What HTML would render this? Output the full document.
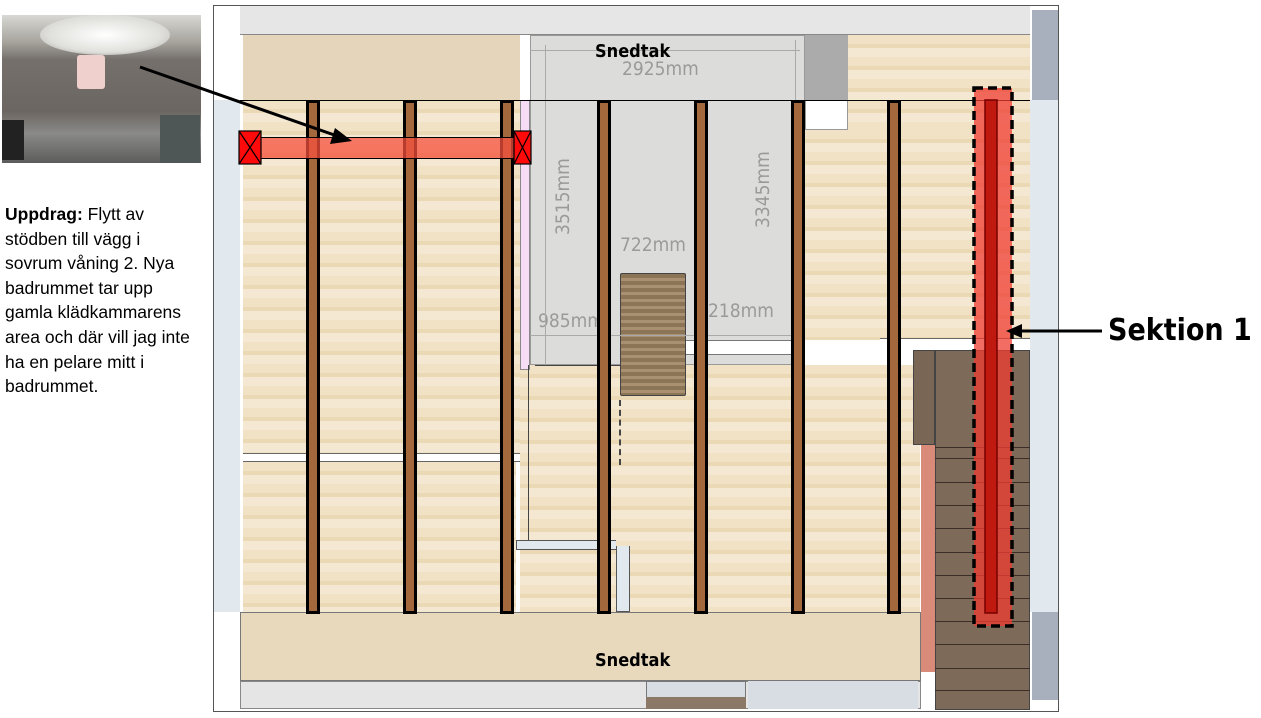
<!DOCTYPE html>
<html><head><meta charset="utf-8"><style>
*{margin:0;padding:0;box-sizing:border-box}
body{width:1261px;height:718px;background:#fff;position:relative;overflow:hidden;font-family:"Liberation Sans","DejaVu Sans",sans-serif}
.a{position:absolute}
.beam{position:absolute;top:100px;height:514px;width:14px;background:#a3683c;border:3px solid #000}
.floor{background:repeating-linear-gradient(180deg,#f1e2c6 0 9px,#ebd8b5 9px 13px,#f4e8d2 13px 22px)}
.dim{position:absolute;color:#9a9a9a;font-size:19px;font-family:"DejaVu Sans Condensed","DejaVu Sans",sans-serif}
.step{position:absolute;left:935px;width:95px;height:1px;background:#3a2e26}
</style></head><body>
<div class="a" style="left:2px;top:15px;width:199px;height:148px;background:linear-gradient(180deg,#d8d8d4 0,#a8a59f 18%,#75706c 30%,#6b6661 65%,#8a8a88 80%,#5c5c5c 100%)"></div>
<div class="a" style="left:40px;top:15px;width:130px;height:40px;border-radius:50%;background:radial-gradient(#fff,#e0e0dc 60%,rgba(200,200,195,0))"></div>
<div class="a" style="left:77px;top:55px;width:28px;height:34px;background:#f0d0cc;border-radius:3px"></div>
<div class="a" style="left:2px;top:120px;width:22px;height:40px;background:#222"></div>
<div class="a" style="left:160px;top:115px;width:40px;height:48px;background:#4e5656"></div>
<div class="a" style="left:5px;top:202px;white-space:nowrap;font-size:17.5px;line-height:24.6px;color:#000"><b>Uppdrag:</b> Flytt av<br>stödben till vägg i<br>sovrum våning 2. Nya<br>badrummet tar upp<br>gamla klädkammarens<br>area och där vill jag inte<br>ha en pelare mitt i<br>badrummet.</div>

<div class="a" style="left:213px;top:5px;width:846px;height:707px;border:1px solid #555;background:#fff"></div>
<div class="a" style="left:240px;top:6px;width:790px;height:29px;background:#e6e6e6;border-bottom:1px solid #888"></div>
<div class="a" style="left:214px;top:100px;width:26px;height:512px;background:#e1e9ef"></div>
<div class="a" style="left:1032px;top:10px;width:26px;height:90px;background:#a9b0bd"></div>
<div class="a" style="left:1030px;top:100px;width:28px;height:512px;background:#e1e9ef"></div>
<div class="a" style="left:1032px;top:612px;width:26px;height:88px;background:#a9b0bd"></div>
<div class="a" style="left:243px;top:35px;width:277px;height:66px;background:#e5d6bb"></div>
<div class="a floor" style="left:848px;top:35px;width:182px;height:66px"></div>
<div class="a" style="left:805px;top:35px;width:43px;height:65px;background:#ababab"></div>
<div class="a" style="left:805px;top:100px;width:43px;height:30px;background:#fff;border:1px solid #999"></div>
<div class="a floor" style="left:243px;top:100px;width:277px;height:353px"></div>
<div class="a floor" style="left:243px;top:462px;width:273px;height:150px"></div>
<div class="a floor" style="left:520px;top:365px;width:400px;height:247px"></div>
<div class="a floor" style="left:805px;top:130px;width:225px;height:210px"></div>
<div class="a floor" style="left:848px;top:100px;width:182px;height:30px"></div>
<div class="a" style="left:243px;top:453px;width:277px;height:9px;background:#fff;border-top:1px solid #666;border-bottom:1px solid #666"></div>
<div class="a" style="left:530px;top:35px;width:275px;height:330px;background:#dcdcda;border:1px solid #999"></div>
<div class="a" style="left:520px;top:100px;width:10px;height:270px;background:#f7dcf5;border:1px solid #888"></div>
<div class="a" style="left:685px;top:340px;width:120px;height:15px;background:#fff;border:1px solid #777"></div>
<div class="a" style="left:880px;top:338px;width:150px;height:12px;background:#fff;border-top:1px solid #666"></div>
<div class="a" style="left:620px;top:273px;width:66px;height:123px;background:repeating-linear-gradient(180deg,#8c7456 0 4px,#a89070 4px 7px);border:1px solid #444;border-radius:2px"></div>
<div class="a" style="left:619px;top:400px;width:0;height:65px;border-left:2px dashed #444"></div>
<div class="dim" style="left:622px;top:58px">2925mm</div>
<div class="dim" style="left:620px;top:234px">722mm</div>
<div class="dim" style="left:538px;top:310px">985mm</div>
<div class="dim" style="left:708px;top:300px">218mm</div>
<div class="dim" style="left:552px;top:235px;transform:rotate(-90deg);transform-origin:left top">3515mm</div>
<div class="dim" style="left:752px;top:228px;transform:rotate(-90deg);transform-origin:left top">3345mm</div>
<div class="a" style="left:545px;top:45px;width:0;height:320px;border-left:1px solid #aaa"></div>
<div class="a" style="left:795px;top:40px;width:0;height:320px;border-left:1px solid #aaa"></div>
<div class="a" style="left:530px;top:50px;width:270px;height:0;border-top:1px solid #aaa"></div>
<div class="a" style="left:530px;top:335px;width:270px;height:0;border-top:1px solid #aaa"></div>
<div class="a" style="left:528px;top:365px;width:0;height:175px;border-left:1px solid #444"></div>
<div class="a" style="left:516px;top:540px;width:100px;height:10px;background:#e1e9ef;border:1px solid #555;border-right:none"></div>
<div class="a" style="left:616px;top:546px;width:14px;height:66px;background:#e1e9ef;border:1px solid #555;border-top:none"></div>
<div class="a" style="left:535px;top:365px;width:85px;height:0;border-top:1px solid #444"></div>
<div class="a" style="left:913px;top:350px;width:22px;height:95px;background:#7a6654;border:1px solid #444"></div>
<div class="a" style="left:921px;top:445px;width:14px;height:227px;background:#d98a78"></div>
<div class="a" style="left:935px;top:350px;width:95px;height:360px;background:#7d6a58;border:1px solid #444"></div>
<div class="step" style="top:447px"></div><div class="step" style="top:458px"></div><div class="step" style="top:482px"></div><div class="step" style="top:505px"></div><div class="step" style="top:528px"></div><div class="step" style="top:552px"></div><div class="step" style="top:575px"></div><div class="step" style="top:598px"></div><div class="step" style="top:621px"></div><div class="step" style="top:644px"></div><div class="step" style="top:668px"></div><div class="step" style="top:690px"></div>
<div class="a" style="left:214px;top:612px;width:26px;height:98px;background:#fff"></div>
<div class="a" style="left:240px;top:612px;width:681px;height:69px;background:#e8d8bc;border:1px solid #777"></div>
<div class="a" style="left:240px;top:681px;width:681px;height:28px;background:#e5e5e5;border:1px solid #888"></div>
<div class="a" style="left:646px;top:681px;width:100px;height:28px;background:#d7dde2;border:1px solid #777"></div>
<div class="a" style="left:646px;top:697px;width:100px;height:12px;background:#8c7866"></div>
<div class="a" style="left:748px;top:681px;width:170px;height:28px;background:#d7dde2"></div>
<div class="beam" style="left:306px"></div>
<div class="beam" style="left:403px"></div>
<div class="beam" style="left:500px"></div>
<div class="beam" style="left:597px"></div>
<div class="beam" style="left:694px"></div>
<div class="beam" style="left:791px"></div>
<div class="beam" style="left:887px"></div>
<div class="a" style="left:240px;top:100px;width:790px;height:0;border-top:1px solid #000"></div>
<div class="a" style="left:255px;top:137px;width:265px;height:22px;background:rgba(245,80,60,0.75);border:1px solid #000"></div>
<svg class="a" style="left:0;top:0" width="1261" height="718">
<g stroke="#000" stroke-width="1.2"><rect x="239" y="131" width="22" height="33" fill="#ff0a0a"/><line x1="239" y1="131" x2="261" y2="164"/><line x1="261" y1="131" x2="239" y2="164"/>
<rect x="514" y="131" width="17" height="33" fill="#ff0a0a"/><line x1="514" y1="131" x2="531" y2="164"/><line x1="531" y1="131" x2="514" y2="164"/></g>
<line x1="140" y1="67" x2="340" y2="137" stroke="#000" stroke-width="3"/>
<polygon points="352,141 335,128 330,144" fill="#000"/>
<rect x="974" y="88" width="38" height="538" fill="rgba(240,60,50,0.75)"/>
<rect x="985" y="100" width="12" height="513" fill="#c01a10" stroke="#700" stroke-width="1.5"/>
<rect x="974" y="88" width="38" height="538" fill="none" stroke="#000" stroke-width="3.5" stroke-dasharray="9,5"/>
<line x1="1022" y1="331" x2="1102" y2="331" stroke="#000" stroke-width="3"/>
<polygon points="1006,331 1022,324 1022,338" fill="#000"/>
</svg>
<div class="a" style="left:595px;top:41px;font-size:18px;font-weight:bold;font-family:'DejaVu Sans Condensed','DejaVu Sans',sans-serif">Snedtak</div>
<div class="a" style="left:595px;top:650px;font-size:18px;font-weight:bold;font-family:'DejaVu Sans Condensed','DejaVu Sans',sans-serif">Snedtak</div>
<div class="a" style="left:1108px;top:313px;font-size:30px;font-weight:bold;white-space:nowrap;font-family:'DejaVu Sans Condensed','DejaVu Sans',sans-serif">Sektion 1</div>
</body></html>
